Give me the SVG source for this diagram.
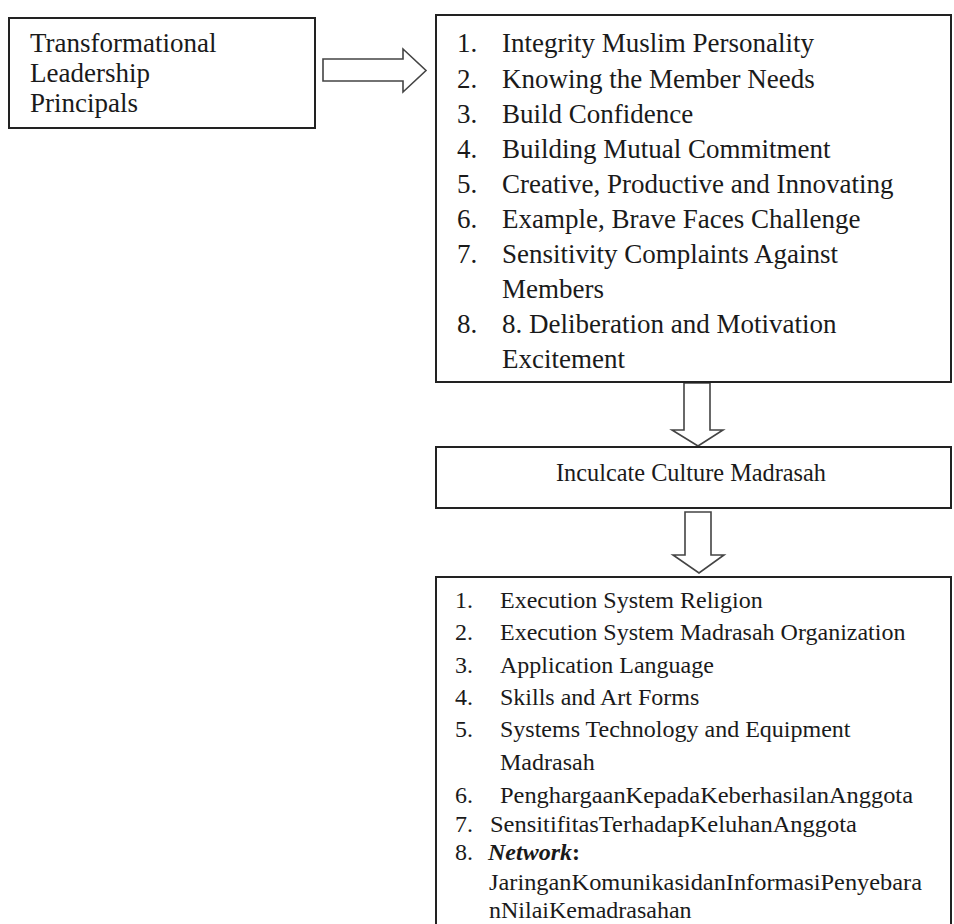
<svg xmlns="http://www.w3.org/2000/svg" width="954" height="924" viewBox="0 0 954 924">
<style>
.box{fill:#fff;stroke:#222;stroke-width:2}
.arr{fill:#fff;stroke:#444;stroke-width:1.6;stroke-linejoin:miter}
text{font-family:"Liberation Serif","Times New Roman",serif;fill:#1a1a1a}
.t1{font-size:27px}
.t2{font-size:27px}
.t3{font-size:26px}
.t4{font-size:24px}
</style>
<rect width="954" height="924" fill="#fff"/>
<g id="connectors">
<polygon class="arr" points="323,59 403,59 403,49 426,70.5 403,92 403,81 323,81"/>
<polygon class="arr" points="684,383 710,383 710,430 723,430 698,446 672,430 684,430"/>
<polygon class="arr" points="685,512 711,512 711,555 724,555 699,573 673,555 685,555"/>
</g>
<g id="principals">
<rect class="box" x="9" y="18" width="306" height="110"/>
<text class="t1" x="30" y="52">Transformational</text>
<text class="t1" x="30" y="82">Leadership</text>
<text class="t1" x="30" y="112">Principals</text>
</g>
<g id="leadership-list">
<rect class="box" x="436" y="15" width="515" height="367"/>
<g class="t2">
<text x="457" y="52">1.</text><text x="502" y="52">Integrity Muslim Personality</text>
<text x="457" y="88">2.</text><text x="502" y="88">Knowing the Member Needs</text>
<text x="457" y="123">3.</text><text x="502" y="123">Build Confidence</text>
<text x="457" y="158">4.</text><text x="502" y="158">Building Mutual Commitment</text>
<text x="457" y="193">5.</text><text x="502" y="193">Creative, Productive and Innovating</text>
<text x="457" y="228">6.</text><text x="502" y="228">Example, Brave Faces Challenge</text>
<text x="457" y="263">7.</text><text x="502" y="263">Sensitivity Complaints Against</text>
<text x="502" y="298">Members</text>
<text x="457" y="333">8.</text><text x="502" y="333">8. Deliberation and Motivation</text>
<text x="502" y="368">Excitement</text>
</g>
</g>
<g id="inculcate">
<rect class="box" x="436" y="447" width="515" height="61"/>
<text class="t3" x="556" y="481" textLength="270" lengthAdjust="spacingAndGlyphs">Inculcate Culture Madrasah</text>
</g>
<g id="culture-list">
<rect class="box" x="436" y="577" width="515" height="360"/>
<g class="t4">
<text x="455" y="608">1.</text><text x="500" y="608">Execution System Religion</text>
<text x="455" y="640">2.</text><text x="500" y="640">Execution System Madrasah Organization</text>
<text x="455" y="673">3.</text><text x="500" y="673">Application Language</text>
<text x="455" y="705">4.</text><text x="500" y="705">Skills and Art Forms</text>
<text x="455" y="737">5.</text><text x="500" y="737">Systems Technology and Equipment</text>
<text x="500" y="770">Madrasah</text>
<text x="455" y="803">6.</text><text x="500" y="803" textLength="413" lengthAdjust="spacingAndGlyphs">PenghargaanKepadaKeberhasilanAnggota</text>
<text x="455" y="832">7.</text><text x="490" y="832" textLength="367" lengthAdjust="spacingAndGlyphs">SensitifitasTerhadapKeluhanAnggota</text>
<text x="455" y="860">8.</text><text x="488" y="860"><tspan font-weight="bold" font-style="italic">Network</tspan><tspan font-weight="bold">:</tspan></text>
<text x="489" y="890" textLength="433" lengthAdjust="spacingAndGlyphs">JaringanKomunikasidanInformasiPenyebara</text>
<text x="489" y="918">nNilaiKemadrasahan</text>
</g>
</g>
</svg>
